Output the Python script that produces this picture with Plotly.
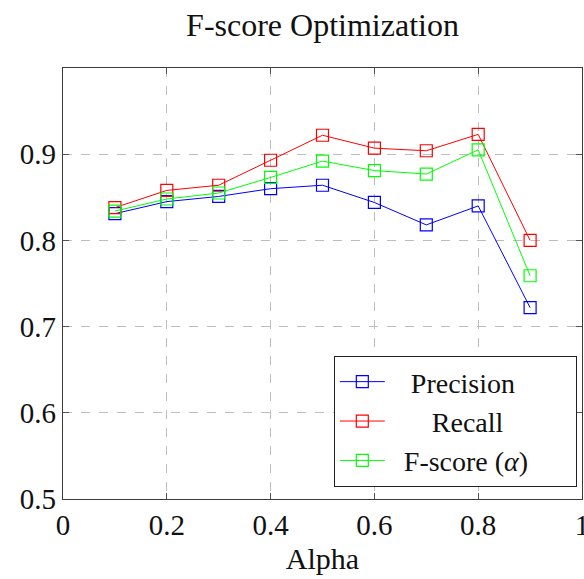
import plotly.graph_objects as go

alpha = [0.1, 0.2, 0.3, 0.4, 0.5, 0.6, 0.7, 0.8, 0.9]
precision = [0.831, 0.845, 0.851, 0.860, 0.864, 0.844, 0.818, 0.840, 0.722]
recall = [0.838, 0.858, 0.864, 0.893, 0.922, 0.907, 0.904, 0.923, 0.800]
fscore = [0.834, 0.848, 0.855, 0.873, 0.892, 0.881, 0.877, 0.905, 0.759]

NB = "&nbsp;"
series = [
    (NB * 3 + "Precision", precision, "#0000ff"),
    (NB * 6 + "Recall", recall, "#ff0000"),
    (NB * 2 + "F-score (<i>α</i>)" + NB * 6, fscore, "#00ff00"),
]

FONT = "Liberation Serif, DejaVu Serif, serif"

fig = go.Figure()
for name, vals, col in series:
    fig.add_trace(go.Scatter(
        x=alpha, y=vals, name=name, mode="lines+markers",
        line=dict(color=col, width=1),
        marker=dict(symbol="square-open", size=12, color=col, line=dict(width=1.2, color=col)),
    ))

axis_common = dict(
    showgrid=True, gridcolor="#bdbdbd", griddash="dash", gridwidth=1,
    showline=True, linecolor="#3a3a3a", linewidth=1.2, mirror="allticks",
    ticks="inside", ticklen=6, tickcolor="#555555", tickwidth=1,
    zeroline=False, tickfont=dict(family=FONT, size=29, color="#111111"),
    ticklabeloverflow="allow", automargin=False,
)

fig.update_layout(
    width=584, height=579,
    margin=dict(l=63, r=2, t=68, b=80),
    paper_bgcolor="white", plot_bgcolor="white",
    title=dict(text="F-score Optimization", x=0.5, xref="paper", y=0.958, yanchor="middle",
               font=dict(family=FONT, size=32, color="#111111")),
    xaxis=dict(range=[0, 1], dtick=0.2, tickformat="~g",
               title=dict(text="Alpha", font=dict(family=FONT, size=30, color="#111111"), standoff=8),
               **axis_common),
    yaxis=dict(range=[0.5, 1.0], tickvals=[0.5, 0.6, 0.7, 0.8, 0.9],
               ticktext=["0.5", "0.6", "0.7", "0.8", "0.9"], **axis_common),
    legend=dict(x=0.99, y=0.028, xanchor="right", yanchor="bottom",
                bgcolor="white", bordercolor="#222222", borderwidth=1,
                font=dict(family=FONT, size=28, color="#111111"),
                itemwidth=45, tracegroupgap=0),
    showlegend=True,
)

fig.write_html("out.html")
